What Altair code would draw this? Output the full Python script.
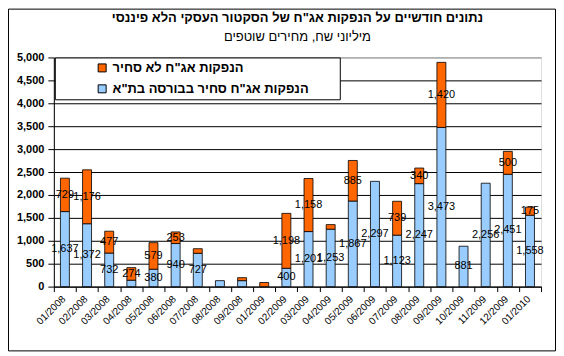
import altair as alt
import pandas as pd

months = ["01/2008", "02/2008", "03/2008", "04/2008", "05/2008", "06/2008",
          "07/2008", "08/2008", "09/2008", "10/2008", "11/2008", "12/2008",
          "01/2009", "02/2009", "03/2009", "04/2009", "05/2009", "06/2009",
          "07/2009", "08/2009", "09/2009", "10/2009", "11/2009", "12/2009",
          "01/2010"]
listed = [1637, 1372, 732, 140, 380, 940, 727, 130, 130, 0, 0, 0,
          0, 400, 1201, 1253, 1867, 2297, 1123, 2247, 3473, 881, 2256, 2451,
          1558]
unlisted = [729, 1176, 477, 274, 579, 253, 100, 0, 65, 0, 0, 0,
            90, 1198, 1158, 100, 885, 0, 739, 340, 1420, 0, 0, 500,
            175]

S_UN = 'הנפקות אג"ח לא סחיר'
S_L = 'הנפקות אג"ח סחיר בבורסה בת"א'
TITLE = 'נתונים חודשיים על הנפקות אג"ח של הסקטור העסקי הלא פיננסי'
SUBTITLE = 'מיליוני שח, מחירים שוטפים'
y_ticks = list(range(0, 5001, 500))

rows = []
for m, b, o in zip(months, listed, unlisted):
    rows.append({"month": m, "series": S_L, "value": b, "ord": 0})
    rows.append({"month": m, "series": S_UN, "value": o, "ord": 1})
df = pd.DataFrame(rows)

F = "Liberation Sans, Arial, sans-serif"

x_axis = alt.Axis(title=None, labelAngle=-45, labelAlign="right", labelBaseline="top",
                  labelOffset=-5, labelFontSize=10, labelFont=F, labelColor="black",
                  tickBand="extent", tickSize=5, tickColor="black", domainColor="black",
                  labelPadding=2, grid=False)
y_axis = alt.Axis(title=None, values=y_ticks, format=",.0f", labelFontWeight="bold",
                  labelFontSize=11, labelFont=F, labelColor="black", tickSize=6,
                  tickColor="black", domainColor="black", labelPadding=4,
                  gridColor={"condition": {"test": "datum.value === 5000", "value": "#808080"},
                             "value": "black"})
x_enc = alt.X("month:N", sort=months, scale=alt.Scale(paddingInner=0, paddingOuter=0), axis=x_axis)
y_scale = alt.Scale(domain=[0, 5000], nice=False)

base = alt.Chart(df).transform_stack(
    stack="value", groupby=["month"], sort=[alt.SortField("ord")], as_=["v0", "v1"]
).transform_calculate(mid="(datum.v0 + datum.v1) / 2")

bars = base.transform_filter("datum.value > 0").mark_bar(
    size=9, stroke="black", strokeWidth=0.8
).encode(
    x=x_enc,
    y=alt.Y("v0:Q", scale=y_scale, axis=y_axis),
    y2="v1:Q",
    color=alt.Color("series:N",
                    scale=alt.Scale(domain=[S_UN, S_L], range=["#FF6600", "#99CCFF"]),
                    legend=alt.Legend(title=None, orient="none", legendX=42, legendY=4,
                                      labelFontSize=13, labelFontWeight="bold", labelFont=F,
                                      labelColor="black", symbolType="square", symbolSize=64,
                                      symbolStrokeColor="black", symbolStrokeWidth=1,
                                      rowPadding=7, padding=0, labelLimit=400, labelOffset=4)),
)

labels = base.transform_filter("datum.value >= 150").mark_text(
    fontSize=11, font=F, color="black"
).encode(
    x=x_enc,
    y=alt.Y("mid:Q", scale=y_scale, axis=y_axis),
    text=alt.Text("value:Q", format=",.0f"),
)

frame_df = pd.DataFrame({"k": [0]})
outer = alt.Chart(frame_df).mark_rect(fillOpacity=0, stroke="black", strokeWidth=1).encode(
    x=alt.value(-45.5), x2=alt.value(503.5), y=alt.value(-48.5), y2=alt.value(294.5))
legend_box = alt.Chart(frame_df).mark_rect(fill="white", stroke="black", strokeWidth=1).encode(
    x=alt.value(1.5), x2=alt.value(287.5), y=alt.value(0.5), y2=alt.value(42.5))

chart = alt.layer(outer, legend_box, bars, labels).properties(
    width=489, height=230,
    autosize=alt.AutoSizeParams(type="none"),
    padding={"left": 46, "top": 49, "right": 15, "bottom": 66},
    title=alt.Title(TITLE, subtitle=SUBTITLE, fontSize=13, fontWeight="bold", font=F,
                    color="black", subtitleFont=F, subtitleFontSize=13,
                    subtitleColor="black", subtitleFontWeight="normal",
                    anchor="middle", offset=-35, subtitlePadding=6),
).configure_view(stroke="#808080", strokeWidth=1).configure(background="white")

chart.save("out.html", embed_options={"renderer": "svg", "actions": False})
